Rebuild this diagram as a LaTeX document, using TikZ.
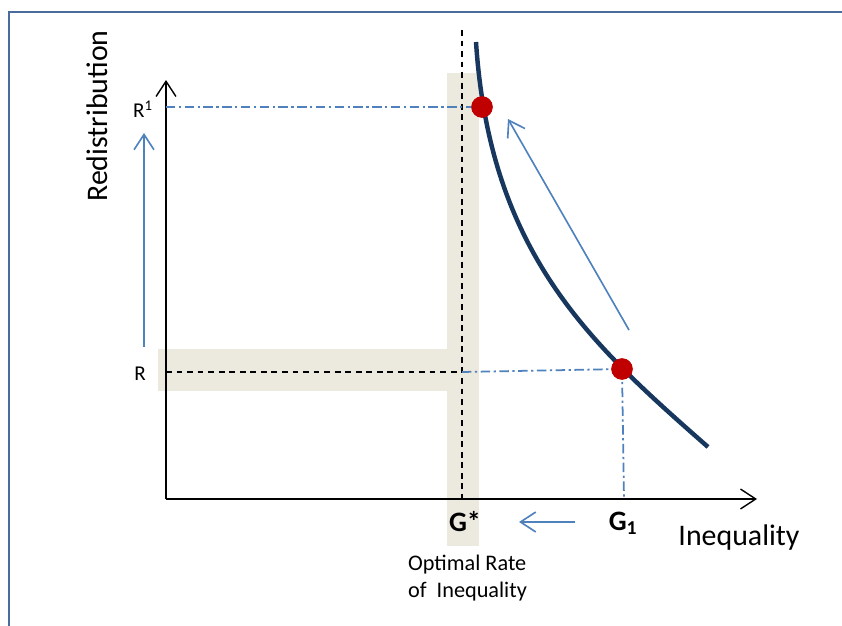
\documentclass[tikz,border=0pt]{standalone}
\usepackage{fontspec}
\setmainfont{Carlito}
\usepackage{tikz}
\usetikzlibrary{arrows.meta}

\definecolor{framecol}{HTML}{4A6C9B}
\definecolor{guideblue}{HTML}{4F81BD}
\definecolor{curvenavy}{HTML}{17375E}
\definecolor{bandbeige}{HTML}{ECE9DF}
\definecolor{dotred}{HTML}{C00000}

\begin{document}
\begin{tikzpicture}[x=0.03cm, y=-0.03cm,
    axisline/.style={-{Straight Barb[length=13pt,width=17pt]}, line width=1.2pt, black},
    movearrow/.style={-{Straight Barb[length=13pt,width=17pt]}, line width=1.4pt, guideblue},
    dashdotline/.style={guideblue, line width=1.5pt, dash pattern=on 8pt off 3pt on 2pt off 3pt},
    blackdash/.style={black, line width=1.3pt, dash pattern=on 5pt off 4pt},
    reddot/.style={circle, fill=dotred, minimum size=0.64cm, inner sep=0pt}]
      \useasboundingbox (0,0) rectangle (842,626);
      % shaded bands
      \fill[bandbeige] (447,73) rectangle (479,546);
      \fill[bandbeige] (158,349) rectangle (447,391);
      % frame
      \draw[framecol, line width=1.6pt] (9,626) -- (9,12) -- (842,12);
      % axes
      \coordinate (origin) at (166,499);
      \coordinate (ytip) at (166,80);
      \coordinate (xtip) at (757,499);
      \draw[axisline] (origin) -- (ytip);
      \draw[axisline] (origin) -- (xtip);
      % guides
      \coordinate (Rleft) at (166,372);
      \coordinate (Gstar) at (462,372);
      \coordinate (Gtop) at (462,30);
      \coordinate (Gbottom) at (462,504);
      \coordinate (R1left) at (166,107);
      \coordinate (Gone) at (624,499);
      \draw[blackdash] (Gtop) -- (Gbottom);
      \draw[blackdash] (Rleft) -- (Gstar);
      % demand curve
      \draw[curvenavy, line width=3.8pt] (476,42) .. controls (490,255) and (592,345) .. (708,447);
      \node[reddot] (high) at (482,107) {};
      \node[reddot] (low) at (622,369) {};
      \draw[dashdotline] (R1left) -- (high.center);
      \draw[dashdotline] (Gstar) -- (low.center);
      \draw[dashdotline] (low.center) -- (Gone);
      \node[reddot] at (high) {};
      \node[reddot] at (low) {};
      % movement arrows
      \coordinate (upfrom) at (144,347);
      \coordinate (upto) at (144,133);
      \coordinate (slidefrom) at (629,330);
      \coordinate (slideto) at (508,119);
      \coordinate (leftfrom) at (575,522);
      \coordinate (leftto) at (519,522);
      \draw[movearrow] (upfrom) -- (upto);
      \draw[movearrow] (slidefrom) -- (slideto);
      \draw[movearrow] (leftfrom) -- (leftto);
      % labels
      \node[rotate=90, font=\fontsize{25.5}{30}\selectfont] (ylabel) at (97,116) {Redistribution};
      \node[font=\fontsize{25.5}{30}\selectfont] (xlabel) at (739,538) {Inequality};
      \node[font=\fontsize{18}{21}\selectfont] (Rone) at (143,109) {R\textsuperscript{1}};
      \node[font=\fontsize{18}{21}\selectfont] (Rzero) at (140,374) {R};
      \node[font=\fontsize{24}{28}\selectfont\bfseries] (Gstarlabel) at (465,522) {G*};
      \node[font=\fontsize{24}{28}\selectfont\bfseries] (Gonelabel) at (623,523) {G\textsubscript{1}};
      \node[anchor=west, align=left, font=\fontsize{19}{23}\selectfont] (optimal) at (404,578) {Optimal Rate\\of~ Inequality};
    \end{tikzpicture}
\end{document}
